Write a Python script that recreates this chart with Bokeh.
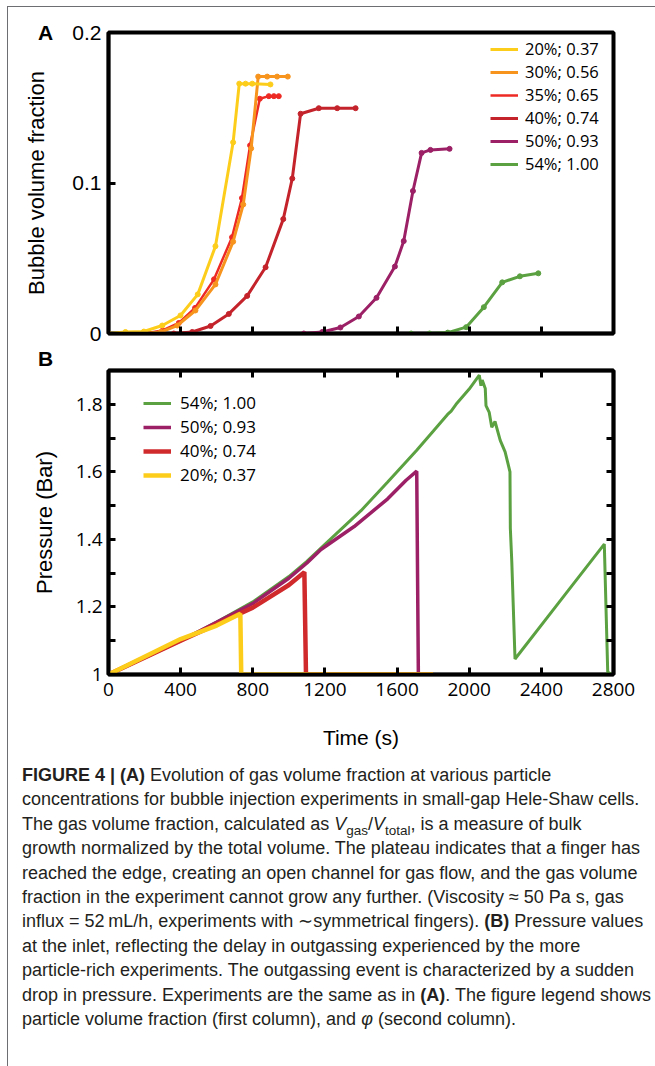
from bokeh.plotting import figure
from bokeh.models import Range1d, FixedTicker, LinearAxis, Legend, LegendItem, Div
from bokeh.layouts import column
from bokeh.embed import file_html
from bokeh.resources import INLINE

# ---------------- Panel A data (bubble volume fraction vs time) ----------------
a_labels = ["20%; 0.37", "30%; 0.56", "35%; 0.65", "40%; 0.74", "50%; 0.93", "54%; 1.00"]
a_colors = ["#FDCD1C", "#F7941E", "#EE2A24", "#C4232B", "#9B2065", "#5BA141"]

a20_t = [0, 94, 196, 298, 399, 495, 593, 691, 725, 760, 797, 898]
a20_v = [0, 0.001, 0.0013, 0.0053, 0.012, 0.026, 0.058, 0.127, 0.166, 0.166, 0.166, 0.1655]

a30_t = [190, 290, 381, 482, 593, 691, 747, 791, 830, 880, 935, 994]
a30_v = [0, 0.001, 0.0053, 0.0153, 0.0326, 0.061, 0.0857, 0.123, 0.1707, 0.1707, 0.1707, 0.1707]

a35_t = [200, 300, 390, 480, 585, 685, 740, 785, 839, 889, 917, 944]
a35_v = [0, 0.002, 0.007, 0.017, 0.036, 0.064, 0.09, 0.125, 0.156, 0.1577, 0.1577, 0.1577]

a40_t = [288, 362, 464, 566, 667, 769, 871, 969, 1019, 1065, 1166, 1268, 1370]
a40_v = [0, 0, 0.001, 0.005, 0.013, 0.025, 0.044, 0.076, 0.103, 0.146, 0.1497, 0.1497, 0.1497]

a50_t = [1083, 1185, 1286, 1388, 1486, 1588, 1637, 1688, 1736, 1785, 1891]
a50_v = [0, 0.001, 0.004, 0.0113, 0.0237, 0.0445, 0.0614, 0.0947, 0.120, 0.122, 0.1227]

a54_t = [1678, 1780, 1881, 1983, 2081, 2183, 2281, 2383]
a54_v = [0, 0, 0.0006, 0.0042, 0.0175, 0.034, 0.038, 0.040]

# ---------------- Panel B data (pressure vs time) ----------------
b_labels = ["54%; 1.00", "50%; 0.93", "40%; 0.74", "20%; 0.37"]
b_colors = ["#5BA141", "#9B2065", "#D02A2C", "#FDCD1C"]

b54_t = [0, 200, 400, 600, 800, 1000, 1100, 1200, 1400, 1548, 1709, 1800, 1880, 1900, 1927, 2000, 2056,
         2065, 2072, 2089, 2093, 2111, 2125, 2143, 2172, 2199, 2213, 2226, 2228, 2236, 2254,
         2500, 2749, 2768, 2790]
b54_p = [1.0, 1.05, 1.10, 1.155, 1.215, 1.29, 1.335, 1.385, 1.485, 1.57, 1.664, 1.72, 1.77, 1.78, 1.80, 1.845, 1.886,
         1.855, 1.872, 1.847, 1.796, 1.776, 1.732, 1.749, 1.693, 1.659, 1.629, 1.60, 1.433, 1.335, 1.046,
         1.215, 1.386, 1.007, 1.0]

b50_t = [0, 400, 800, 1000, 1100, 1178, 1362, 1548, 1650, 1709, 1718]
b50_p = [1.0, 1.10, 1.21, 1.285, 1.33, 1.37, 1.438, 1.52, 1.575, 1.602, 1.0]

b40_t = [0, 400, 800, 1000, 1086, 1095, 1800]
b40_p = [1.0, 1.10, 1.198, 1.265, 1.303, 1.0, 1.0]

b20_t = [0, 400, 600, 731, 736, 1800]
b20_p = [1.0, 1.105, 1.145, 1.18, 1.0, 1.0]

x_ticks = [0, 400, 800, 1200, 1600, 2000, 2400, 2800]
a_yticks = [0, 0.1, 0.2]
b_yticks = [1.0, 1.2, 1.4, 1.6, 1.8]
b_yminor = [1.1, 1.3, 1.5, 1.7, 1.9]

TICK_FONT_A = "Liberation Sans"
TICK_FONT_B = "Open Sans"


def style_axis(ax, font, size, ticks, labels=True):
    ax.ticker = ticks
    ax.axis_line_width = 3.5
    ax.axis_line_color = "black"
    ax.major_tick_in = 7
    ax.major_tick_out = 0
    ax.major_tick_line_width = 3
    ax.major_tick_line_color = "black"
    ax.minor_tick_in = 7
    ax.minor_tick_out = 0
    ax.minor_tick_line_width = 3
    ax.minor_tick_line_color = "black"
    ax.major_label_text_font = font
    ax.major_label_text_font_size = size
    ax.major_label_text_color = "black" if labels else None
    ax.axis_label_text_font_style = "normal"
    ax.axis_label_text_color = "black"


# ---------------- Panel A ----------------
pA = figure(width=647, height=338, x_range=Range1d(0, 2800), y_range=Range1d(0, 0.2),
            output_backend="svg", toolbar_location=None,
            min_border_left=100, min_border_right=42, min_border_top=25, min_border_bottom=12)
pA.xgrid.visible = False
pA.ygrid.visible = False
pA.outline_line_color = "black"
pA.outline_line_width = 4
pA.outline_line_alpha = 1
pA.background_fill_color = "white"
pA.border_fill_color = "white"

style_axis(pA.xaxis[0], TICK_FONT_A, "10px", FixedTicker(ticks=x_ticks), labels=False)
pA.xaxis[0].major_label_standoff = 0
style_axis(pA.yaxis[0], TICK_FONT_A, "21px", FixedTicker(ticks=a_yticks))
pA.yaxis[0].major_label_overrides = {0: "0", 0.1: "0.1", 0.2: "0.2"}
pA.yaxis[0].major_label_standoff = 7
pA.yaxis[0].axis_label = "Bubble volume fraction"
pA.yaxis[0].axis_label_text_font = "Liberation Sans"
pA.yaxis[0].axis_label_text_font_size = "22px"
pA.yaxis[0].axis_label_standoff = 20

a_series = [(a40_t, a40_v, 3, 3), (a35_t, a35_v, 2, 2.5), (a30_t, a30_v, 1, 3), (a20_t, a20_v, 0, 3),
            (a50_t, a50_v, 4, 3), (a54_t, a54_v, 5, 3)]
a_line_r = {}
for t, v, idx, lw in a_series:
    r = pA.line(t, v, line_color=a_colors[idx], line_width=lw)
    pA.scatter(t, v, size=5, color=a_colors[idx])
    a_line_r[idx] = r

legA = Legend(items=[LegendItem(label=a_labels[i], renderers=[a_line_r[i]]) for i in range(6)],
              location=(382, 158), orientation="vertical",
              label_text_font="Open Sans", label_text_font_size="16.5px", label_text_color="black",
              glyph_width=28, glyph_height=20, label_height=20, label_standoff=7, spacing=-2,
              padding=0, margin=0, border_line_color=None, background_fill_alpha=0)
pA.add_layout(legA)

# ---------------- Panel B ----------------
pB = figure(width=647, height=415, x_range=Range1d(0, 2800), y_range=Range1d(1.0, 1.9),
            output_backend="svg", toolbar_location=None,
            min_border_left=100, min_border_right=42, min_border_top=25, min_border_bottom=86)
pB.xgrid.visible = False
pB.ygrid.visible = False
pB.outline_line_color = "black"
pB.outline_line_width = 4
pB.background_fill_color = "white"
pB.border_fill_color = "white"

style_axis(pB.xaxis[0], TICK_FONT_B, "19px", FixedTicker(ticks=x_ticks))
pB.xaxis[0].major_label_standoff = 8
pB.xaxis[0].axis_label = "Time (s)"
pB.xaxis[0].axis_label_text_font = "Liberation Sans"
pB.xaxis[0].axis_label_text_font_size = "21px"
pB.xaxis[0].axis_label_standoff = 27
style_axis(pB.yaxis[0], TICK_FONT_B, "19px", FixedTicker(ticks=b_yticks, minor_ticks=b_yminor))
pB.yaxis[0].major_label_overrides = {1: "1", 1.2: "1.2", 1.4: "1.4", 1.6: "1.6", 1.8: "1.8"}
pB.yaxis[0].major_label_standoff = 6
pB.yaxis[0].axis_label = "Pressure (Bar)"
pB.yaxis[0].axis_label_text_font = "Liberation Sans"
pB.yaxis[0].axis_label_text_font_size = "22px"
pB.yaxis[0].axis_label_standoff = 16

top_ax = LinearAxis()
style_axis(top_ax, TICK_FONT_B, "10px", FixedTicker(ticks=x_ticks), labels=False)
top_ax.major_label_standoff = 0
pB.add_layout(top_ax, "above")
right_ax = LinearAxis()
style_axis(right_ax, TICK_FONT_B, "10px", FixedTicker(ticks=b_yticks, minor_ticks=b_yminor), labels=False)
right_ax.major_label_standoff = 0
pB.add_layout(right_ax, "right")

rg = pB.line(b54_t, b54_p, line_color=b_colors[0], line_width=3)
rp = pB.line(b50_t, b50_p, line_color=b_colors[1], line_width=3.5)
rr = pB.line(b40_t, b40_p, line_color=b_colors[2], line_width=4.5)
ry = pB.line(b20_t, b20_p, line_color=b_colors[3], line_width=4.5)

legB = Legend(items=[LegendItem(label=b_labels[i], renderers=[r]) for i, r in enumerate([rg, rp, rr, ry])],
              location=(35, 188), orientation="vertical",
              label_text_font="Open Sans", label_text_font_size="17px", label_text_color="black",
              glyph_width=28, glyph_height=22, label_height=22, label_standoff=9, spacing=1,
              padding=0, margin=0, border_line_color=None, background_fill_alpha=0)
pB.add_layout(legB)

# ---------------- Panel letters (overlaid) ----------------
letter_style = {"position": "absolute", "font-family": "'Liberation Sans', sans-serif",
                "font-size": "21px", "font-weight": "bold", "color": "black", "line-height": "22px"}
span = "<span style='font-family:Liberation Sans,sans-serif;font-size:21px;font-weight:bold;line-height:22px'>{}</span>"
divA = Div(text=span.format("A"), width=26, height=24, margin=(0, 0, 0, 0),
           styles=dict(letter_style, left="30px", top="15px"))
divB = Div(text=span.format("B"), width=26, height=24, margin=(0, 0, 0, 0),
           styles=dict(letter_style, left="30px", top="341px"))

# ---------------- Caption ----------------
caption_lines = [
    "<b>FIGURE 4 | (A)</b> Evolution of gas volume fraction at various particle",
    "concentrations for bubble injection experiments in small-gap Hele-Shaw cells.",
    "The gas volume fraction, calculated as <i>V</i><sub>gas</sub>/<i>V</i><sub>total</sub>, is a measure of bulk",
    "growth normalized by the total volume. The plateau indicates that a finger has",
    "reached the edge, creating an open channel for gas flow, and the gas volume",
    "fraction in the experiment cannot grow any further. (Viscosity &asymp; 50 Pa s, gas",
    "influx = 52&#8201;mL/h, experiments with &sim;symmetrical fingers). <b>(B)</b> Pressure values",
    "at the inlet, reflecting the delay in outgassing experienced by the more",
    "particle-rich experiments. The outgassing event is characterized by a sudden",
    "drop in pressure. Experiments are the same as in <b>(A)</b>. The figure legend shows",
    "particle volume fraction (first column), and <i>&phi;</i> (second column).",
]
cap_html = "<br>".join(caption_lines).replace("<sub>", "<sub style='font-size:75%;line-height:0'>")
cap = Div(text=cap_html, width=647, height=306, margin=(0, 0, 0, 0),
          styles={"font-family": "'Liberation Sans', sans-serif",
                  "font-size": "18px", "line-height": "24.4px", "color": "#231f20",
                  "padding-left": "14px", "padding-top": "3px", "white-space": "nowrap"})

p = column(pA, pB, cap, divA, divB, spacing=0,
           styles={"margin-left": "7px", "margin-top": "6px", "position": "relative",
                   "border-left": "1px solid #6d6e71", "border-top": "1px solid #6d6e71",
                   "background-color": "white"})

open("out.html", "w").write(file_html(p, INLINE))
